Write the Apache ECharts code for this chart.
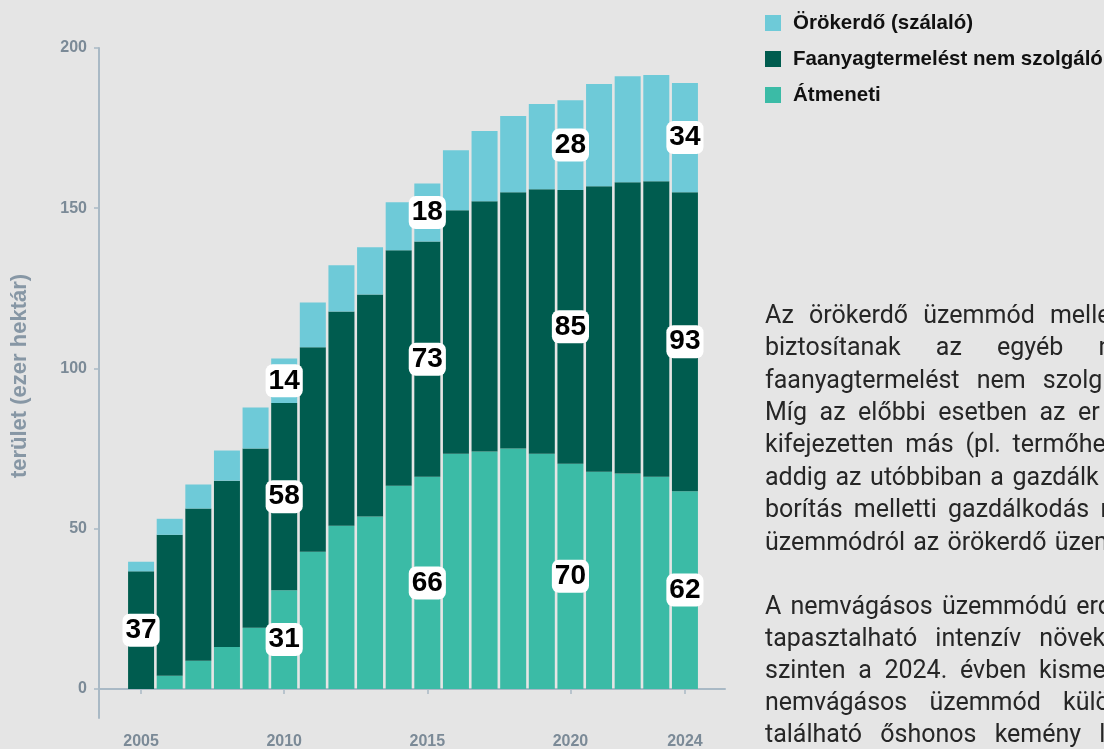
<!DOCTYPE html>
<html><head><meta charset="utf-8">
<script src="https://cdn.jsdelivr.net/npm/echarts@6/dist/echarts.min.js"></script>
<style>
html,body{margin:0;padding:0;width:1104px;height:749px;overflow:hidden;background:#e5e5e5;}
#chart{position:absolute;left:0;top:0;width:1104px;height:749px;}
#para{position:absolute;left:0;top:0;width:1104px;height:749px;overflow:hidden;pointer-events:none;font-family:Roboto,"Liberation Sans",sans-serif;font-size:25px;color:#262626;}
.ln{position:absolute;left:765px;white-space:nowrap;line-height:25px;height:25px;}
</style></head><body>
<div id="chart"></div><div id="para"></div>
<script>
// ---- data ----
const years = [2005,2006,2007,2008,2009,2010,2011,2012,2013,2014,2015,2016,2017,2018,2019,2020,2021,2022,2023,2024];
const atmeneti = [0,4.1,8.8,13.1,19.1,30.8,42.8,50.9,53.8,63.4,66.2,73.4,74.1,75.0,73.4,70.3,67.8,67.2,66.2,61.7];
const faanyag  = [36.7,44.0,47.5,51.9,55.9,58.4,63.8,66.9,69.3,73.5,73.4,76.0,78.1,80.0,82.5,85.4,89.1,90.9,92.2,93.3];
const orokerdo = [3.0,5.0,7.5,9.4,12.8,13.9,14.0,14.4,14.7,15.0,18.1,18.7,21.9,23.8,26.6,28.0,31.9,33.1,33.2,34.1];
const seriesNames = ['Örökerdő (szálaló)','Faanyagtermelést nem szolgáló','Átmeneti'];
const labelYearsAtmeneti = [2010,2015,2020,2024];
const labelYearsFaanyag  = [2005,2010,2015,2020,2024];
const labelYearsOrokerdo = [2010,2015,2020,2024];
const xTickYears = [2005,2010,2015,2020,2024];
const yTicks = [0,50,100,150,200];
const yAxisName = 'terület (ezer hektár)';

// ---- side text (visible part, clipped by the window) ----
const paragraphLines = [
  'Az örökerdő üzemmód melle',
  'biztosítanak az egyéb n',
  'faanyagtermelést nem szolg',
  'Míg az előbbi esetben az er',
  'kifejezetten más (pl. termőhe',
  'addig az utóbbiban a gazdálk',
  'borítás melletti gazdálkodás n',
  'üzemmódról az örökerdő üzem',
  'A nemvágásos üzemmódú erd',
  'tapasztalható intenzív növek',
  'szinten a 2024. évben kisme',
  'nemvágásos üzemmód külö',
  'található őshonos kemény l'
];
// layout of the justified text: top (px) and word spacing (px) per line
const lineLayout = [
  [301.5,9],[334,29],[366.5,11],[399,6.3],[431,5.6],[463.5,2.4],[496,5],[528.5,2],
  [592.5,3],[624.5,12],[656.5,6.5],[689,16],[721,12]
];
const para = document.getElementById('para');
paragraphLines.forEach((t,i) => {
  const d = document.createElement('div'); d.className='ln'; d.textContent=t;
  d.style.top = lineLayout[i][0]+'px'; d.style.wordSpacing = lineLayout[i][1]+'px';
  para.appendChild(d);
});

// ---- chart ----
const colors = {orokerdo:'#6ecad8', faanyag:'#005c4f', atmeneti:'#3bbba6'};
const labelStyle = {
  position:'inside', color:'#000', fontFamily:'"Liberation Sans",Arial',
  fontWeight:'bold', fontSize:28, lineHeight:28, backgroundColor:'#fff', borderRadius:7, padding:[3,3,2,3],
  formatter: p => String(Math.round(p.value[0]))
};
// items are [value, year] so that the value dimension is the stacked one
function mk(vals, labelYears){
  return years.map((y,i) => ({value:[vals[i], y], label:{show: labelYears.includes(y)}}));
}
const axisColor = '#a9b9c5';
const tickLabelColor = '#7b8a97';
const chart = echarts.init(document.getElementById('chart'), null, {renderer:'canvas'});
const barBase = {type:'bar', stack:'t', barWidth:26, encode:{x:1, y:0}, label:labelStyle};
chart.setOption({
  backgroundColor:'#e5e5e5',
  animation:false,
  grid:{left:99, right:379, top:48, bottom:31, containLabel:false, outerBoundsMode:'none'},
  legend:{
    orient:'vertical', left:765, top:12.5, padding:0, itemWidth:16, itemHeight:16, itemGap:15, icon:'rect',
    selectedMode:false, data: seriesNames,
    textStyle:{fontFamily:'"Liberation Sans",Arial', fontWeight:'bold', fontSize:20.5, color:'#111', padding:[0,0,0,7]}
  },
  xAxis:{
    type:'value', min:2003.53, max:2025.4,
    axisLine:{show:true, lineStyle:{color:axisColor, width:2}},
    axisTick:{show:true, customValues:xTickYears, length:5, lineStyle:{color:axisColor, width:1.5}},
    axisLabel:{customValues:xTickYears, formatter: v => String(v), color:tickLabelColor, fontWeight:'bold',
      fontSize:16, margin:16, fontFamily:'"Liberation Sans",Arial'},
    splitLine:{show:false}
  },
  yAxis:{
    type:'value', min:-9.06, max:200,
    name:yAxisName, nameLocation:'middle', nameGap:68, nameRotate:90,
    nameTextStyle:{color:'#8797a5', fontSize:22, fontWeight:'bold', fontFamily:'"Liberation Sans",Arial', padding:[0,0,0,14]},
    axisLine:{show:true, lineStyle:{color:axisColor, width:2}},
    axisTick:{show:true, customValues:yTicks, length:5, lineStyle:{color:axisColor, width:1.5}},
    axisLabel:{customValues:yTicks, color:tickLabelColor, fontWeight:'bold', fontSize:16, margin:12, fontFamily:'"Liberation Sans",Arial'},
    splitLine:{show:false}
  },
  series:[
    Object.assign({name:seriesNames[2], itemStyle:{color:colors.atmeneti}, data:mk(atmeneti, labelYearsAtmeneti)}, barBase),
    Object.assign({name:seriesNames[1], itemStyle:{color:colors.faanyag}, data:mk(faanyag, labelYearsFaanyag)}, barBase),
    Object.assign({name:seriesNames[0], itemStyle:{color:colors.orokerdo}, data:mk(orokerdo, labelYearsOrokerdo)}, barBase)
  ]
});
</script></body></html>
